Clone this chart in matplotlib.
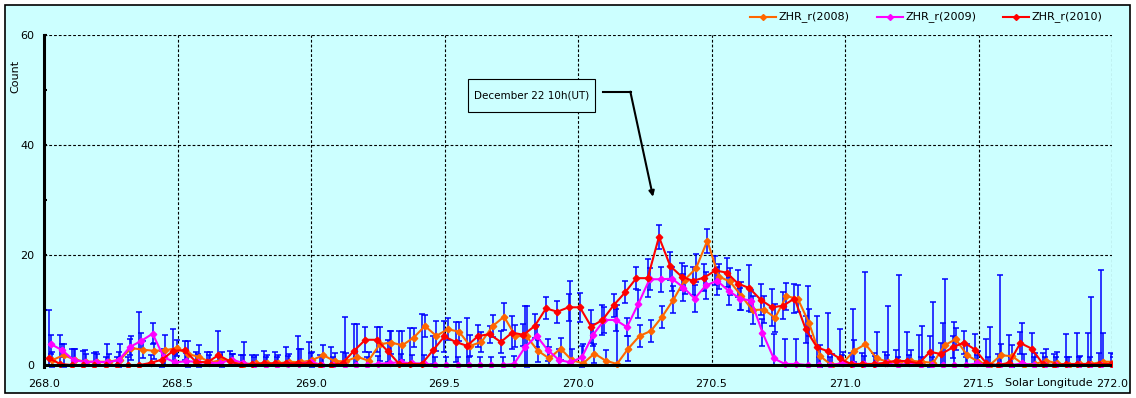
import numpy as np
import matplotlib
matplotlib.use('Agg')
import matplotlib.pyplot as plt
from matplotlib.patches import Rectangle
from matplotlib.lines import Line2D

# hourly ZHR_r values
zhr_2008 = [0.9, 1.8, 1.0, 0.6, 0.6, 0.6, 1.0, 3.1, 2.8, 2.6,
            2.7, 3.1, 2.0, 1.5, 0.5, 0.9, 0.6, 0.2, 0.3, 0.3,
            0.3, 0.6, 0.5, 0.9, 1.8, 0.7, 0.7, 1.5, 0.8, 3.8,
            4.1, 3.6, 5.0, 7.1, 5.3, 6.5, 6.1, 3.5, 4.2, 7.1,
            8.8, 5.3, 5.2, 2.6, 1.2, 3.0, 0.9, 0.3, 2.1, 0.8,
            0.2, 3.0, 5.3, 6.2, 8.8, 11.9, 15.5, 17.6, 22.6, 16.1,
            15.2, 12.6, 10.0, 10.1, 8.6, 12.5, 12.1, 7.7, 1.6, 0.0,
            0.4, 2.6, 3.8, 1.2, 0.6, 0.6, 0.8, 0.6, 0.4, 3.6,
            4.7, 1.8, 0.6, 0.0, 1.8, 1.6, 0.1, 0.2, 0.8, 0.3,
            0.0, 0.2, 0.2, 0.6, 0.6]
err_2008 = [1.5, 2.1, 2.0, 1.5, 1.5, 1.5, 2.8, 2.2, 1.5, 1.5,
            2.7, 1.5, 2.4, 2.1, 1.9, 1.5, 1.5, 4.0, 1.5, 1.5,
            1.5, 1.5, 2.5, 1.5, 1.8, 1.5, 1.5, 5.9, 1.5, 3.1,
            2.1, 2.6, 1.7, 2.0, 2.8, 2.0, 1.8, 1.9, 1.9, 2.0,
            2.4, 2.0, 5.5, 2.0, 2.0, 2.0, 2.0, 3.5, 1.7, 2.0,
            10.7, 2.2, 2.0, 2.0, 2.0, 2.5, 2.5, 2.5, 2.2, 2.3,
            2.4, 2.5, 2.5, 2.5, 2.5, 2.5, 2.5, 2.5, 2.0, 2.0,
            2.0, 2.0, 13.2, 4.9, 10.1, 15.8, 2.0, 6.5, 11.0, 12.0,
            2.0, 2.0, 2.0, 6.9, 2.0, 2.0, 2.0, 2.0, 2.2, 2.1,
            1.5, 1.5, 12.1, 5.3, 1.5]

zhr_2009 = [3.8, 2.7, 0.9, 0.6, 0.6, 0.5, 0.9, 3.3, 4.4, 5.7,
            1.4, 0.5, 0.7, 0.6, 0.4, 0.4, 1.0, 0.4, 0.0, 0.0,
            0.0, 0.2, 0.2, 0.6, 0.0, 0.0, 0.0, 0.0, 0.0, 0.2,
            0.4, 0.5, 0.3, 0.3, 0.0, 0.0, 0.0, 0.0, 0.0, 0.0,
            0.0, 0.2, 3.3, 5.3, 2.7, 0.9, 0.5, 1.4, 5.5, 8.2,
            8.2, 6.9, 11.1, 15.6, 15.6, 15.7, 14.1, 12.1, 14.5, 15.3,
            13.5, 12.1, 11.7, 5.9, 1.2, 0.2, 0.2, 0.0, 0.0, 0.0,
            0.3, 0.2, 0.2, 0.2, 0.3, 0.0, 0.3, 0.0, 0.0, 0.0,
            0.0, 0.0, 0.3, 0.0, 0.0, 0.0, 0.3, 0.0, 0.0, 0.0,
            0.0, 0.0, 0.0, 0.0, 0.0]
err_2009 = [1.7, 1.2, 2.0, 2.1, 1.7, 3.4, 1.5, 1.5, 1.5, 1.9,
            1.5, 1.5, 1.5, 1.5, 1.5, 1.5, 1.1, 1.5, 1.5, 1.5,
            1.5, 1.5, 2.8, 1.6, 1.5, 1.5, 8.8, 1.5, 1.5, 1.5,
            5.8, 1.5, 1.5, 1.5, 1.5, 1.5, 1.5, 1.5, 1.5, 1.5,
            1.5, 1.5, 7.4, 2.0, 2.0, 2.0, 14.7, 2.0, 2.0, 2.3,
            2.0, 1.7, 2.5, 2.0, 2.3, 2.2, 2.5, 2.5, 2.5, 2.5,
            2.5, 2.0, 2.0, 2.5, 4.4, 4.5, 4.5, 14.4, 1.5, 1.5,
            1.5, 10.0, 1.5, 1.5, 1.5, 1.5, 1.5, 1.5, 1.5, 7.6,
            7.9, 1.5, 1.5, 1.5, 16.4, 1.5, 7.3, 1.5, 1.5, 1.5,
            1.5, 1.5, 1.5, 17.3, 1.5]

zhr_2010 = [1.2, 0.2, 0.0, 0.0, 0.0, 0.0, 0.0, 0.0, 0.0, 0.4,
            1.0, 2.6, 2.7, 0.6, 0.5, 1.8, 0.7, 0.0, 0.2, 0.3,
            0.3, 0.3, 0.3, 0.3, 0.0, 0.0, 0.4, 2.6, 4.6, 4.6,
            2.5, 0.2, 0.2, 0.2, 2.7, 5.2, 4.2, 3.5, 5.3, 5.6,
            4.2, 5.9, 5.5, 7.1, 10.3, 9.7, 10.5, 10.5, 7.0, 8.2,
            10.9, 13.2, 15.8, 15.8, 23.3, 18.0, 16.1, 15.3, 15.9, 17.2,
            16.8, 14.8, 14.0, 11.9, 10.5, 10.8, 12.1, 6.5, 3.2, 2.5,
            1.2, 0.2, 0.2, 0.2, 0.4, 0.8, 0.7, 0.3, 2.4, 2.0,
            3.2, 4.1, 2.8, 0.3, 0.0, 0.4, 4.0, 3.0, 0.2, 0.0,
            0.2, 0.2, 0.2, 0.2, 0.2]
err_2010 = [8.8, 5.3, 3.0, 2.6, 2.2, 1.5, 1.5, 1.5, 9.7, 1.5,
            1.5, 3.9, 1.7, 1.8, 1.9, 4.4, 1.8, 1.9, 1.7, 2.3,
            2.1, 2.9, 4.9, 3.9, 1.8, 3.3, 2.0, 4.8, 2.3, 2.3,
            2.0, 6.0, 6.5, 9.1, 2.5, 2.9, 3.7, 5.0, 2.0, 1.5,
            2.0, 3.0, 2.0, 2.2, 2.0, 2.0, 2.5, 2.6, 3.0, 2.7,
            2.1, 2.0, 2.0, 3.5, 2.2, 2.5, 2.5, 2.5, 2.5, 2.6,
            2.6, 2.5, 4.2, 2.8, 3.4, 2.5, 2.7, 2.5, 5.8, 6.9,
            5.3, 2.0, 2.0, 2.0, 2.0, 2.0, 5.4, 5.2, 2.8, 2.0,
            2.0, 2.1, 2.8, 4.5, 2.0, 5.1, 2.0, 2.8, 2.0, 2.0,
            5.5, 5.7, 5.6, 2.0, 2.0]

# solar longitude of the first hourly bin of each year, and one hour in degrees
start_2008 = 268.031
start_2009 = 268.026
start_2010 = 268.019
hour_step = 0.0423

x_ticks = [268.0, 268.5, 269.0, 269.5, 270.0, 270.5, 271.0, 271.5, 272.0]
y_ticks = [0, 20, 40, 60]

series = [
    ('ZHR_r(2008)', zhr_2008, err_2008, start_2008, '#FF6600'),
    ('ZHR_r(2009)', zhr_2009, err_2009, start_2009, '#FF00FF'),
    ('ZHR_r(2010)', zhr_2010, err_2010, start_2010, '#FF0000'),
]

plt.rcParams['font.family'] = 'DejaVu Sans'
plt.rcParams['font.size'] = 8

W, H = 1136, 398
fig = plt.figure(figsize=(W / 100, H / 100), dpi=100, facecolor='white')
bg = '#CCFFFF'

# outer frame, kept behind the axes
frame = Rectangle((5 / W, 5 / H), 1125 / W, 388 / H, transform=fig.transFigure,
                  facecolor=bg, edgecolor='black', lw=1.2, zorder=-10)
fig.patches.append(frame)

ax = fig.add_axes([44 / W, 1 - 367 / H, 1068 / W, 332 / H])
ax.set_zorder(1)
ax.set_facecolor(bg)

for name, vals, errs, start, col in series:
    sol = start + hour_step * np.arange(len(vals))
    ax.errorbar(sol, vals, yerr=errs, fmt='none', ecolor='#0000FF', elinewidth=1.1,
                capsize=2.5, capthick=1.1, zorder=2)

for name, vals, errs, start, col in series:
    sol = start + hour_step * np.arange(len(vals))
    ax.plot(sol, vals, color=col, lw=1.5, marker='D', ms=3.3, mec=col, mfc=col, zorder=3)

ax.set_xlim(268.0, 272.0)
ax.set_ylim(-0.35, 60)
ax.axhline(0, color='black', lw=2.2, zorder=4)

ax.set_xticks(x_ticks)
ax.set_xticklabels(['%.1f' % v for v in x_ticks])
ax.set_yticks(y_ticks)
ax.set_yticks([10, 30, 50], minor=True)
ax.tick_params(axis='x', length=0, pad=8.5)
ax.tick_params(axis='y', which='both', direction='in', width=1.5, length=2.5, pad=7)

ax.grid(True, which='major', color='black', lw=0.8, linestyle=(0, (2.5, 1.8)))
for s in ['top', 'right', 'bottom']:
    ax.spines[s].set_visible(False)
ax.spines['left'].set_linewidth(2.2)

fig.text(1093 / W, 1 - 383 / H, 'Solar Longitude', ha='right', va='center')
fig.text(15 / W, 1 - 76 / H, 'Count', rotation=90, ha='center', va='center')

# annotation box with bent arrow
ax.add_patch(Rectangle((269.588, 46.0), 0.476, 6.0, facecolor=bg, edgecolor='black',
                       lw=0.8, zorder=5))
ax.text(269.826, 49.0, 'December 22 10h(UT)', ha='center', va='center', fontsize=7.5, zorder=6)
ax.plot([270.094, 270.197], [49.6, 49.6], color='black', lw=1.5, zorder=5)
ax.annotate('', xy=(270.281, 30.6), xytext=(270.196, 49.7),
            arrowprops=dict(arrowstyle='-|>', color='black', lw=1.5,
                            mutation_scale=8, shrinkA=0, shrinkB=0), zorder=5)

# legend across the top
leg_y = 1 - 17 / H
for (name, vals, errs, start, col), x0 in zip(series, [750, 877, 1003]):
    fig.add_artist(Line2D([x0 / W, (x0 + 26) / W], [leg_y, leg_y], color=col, lw=1.5,
                          transform=fig.transFigure))
    fig.add_artist(Line2D([(x0 + 13) / W], [leg_y], color=col, marker='D', ms=3,
                          transform=fig.transFigure))
    fig.text((x0 + 29) / W, leg_y, name, ha='left', va='center')

fig.savefig('out.png', dpi=100, facecolor='white')
